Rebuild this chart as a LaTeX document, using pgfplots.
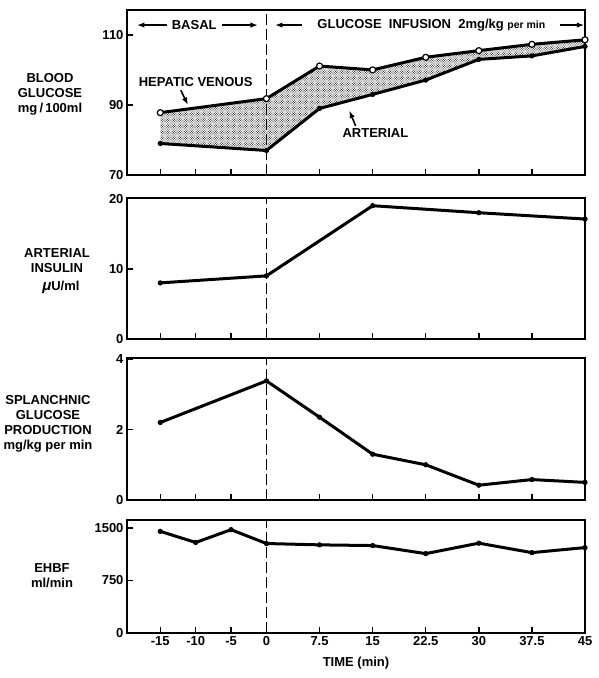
\documentclass[border=0pt]{standalone}
\usepackage{pgfplots}
\pgfplotsset{compat=1.18}
\usepackage{fontspec}
\setmainfont{Liberation Sans}
\usetikzlibrary{patterns,patterns.meta,arrows.meta}

\newcommand{\lab}{\bfseries\fontsize{13}{15}\selectfont}
\tikzset{
  arr/.style={line width=1.6pt, -{Latex[length=7.5pt,width=5.5pt]}},
  dash0/.style={line width=1.3pt, dash pattern=on 11pt off 4pt},
}
\tikzdeclarepattern{
  name=fdots, type=uncolored,
  bottom left={(-.1pt,-.1pt)}, top right={(2.4pt,2.4pt)},
  tile size={(2.4pt,2.4pt)},
  code={\fill (0.6pt,0.6pt) circle (0.55pt); \fill (1.8pt,1.8pt) circle (0.55pt);}
}
\pgfplotsset{
  panel/.style={
    scale only axis, width=458pt, xmin=-19.7, xmax=45,
    anchor=north west, clip=false,
    axis line style={line width=1.7pt},
    every tick/.style={line width=1.4pt, black},
    major tick length=6pt, tick align=inside,
    xtick={-15,-10,-5,7.5,15,22.5,30,37.5}, xticklabels={},
    xtick pos=bottom, ytick pos=left,
    ticklabel style={font=\lab},
    /pgf/number format/assume math mode=true,
  },
  dl/.style={line width=3pt, black, mark=*, mark size=2.2pt, mark options={fill=black, line width=0.8pt}},
}

\begin{document}
\begin{tikzpicture}
\useasboundingbox (0pt,0pt) rectangle (598pt,-678pt);

% ---------- Panel 1: blood glucose ----------
\begin{axis}[panel, at={(127pt,-10pt)}, height=165pt,
  ymin=70, ymax=117.1, ytick={70,90,110}, yticklabels={70,90,110}]
\draw[dash0] (axis cs:0,70) -- (axis cs:0,117.1);
\addplot[draw=none, pattern=fdots, pattern color=black!85] coordinates {
  (-15,87.8) (0,91.8) (7.5,101.1) (15,100) (22.5,103.6) (30,105.5) (37.5,107.3) (45,108.6)
  (45,106.7) (37.5,104) (30,103) (22.5,97.1) (15,93) (7.5,89) (0,77) (-15,79)} --cycle;
% arterial
\addplot[dl] coordinates {(-15,79) (0,77) (7.5,89) (15,93) (22.5,97.1) (30,103) (37.5,104) (45,106.7)};
% hepatic venous
\addplot[dl, mark options={fill=white, line width=1.2pt}, mark size=3pt] coordinates {(-15,87.8) (0,91.8) (7.5,101.1) (15,100) (22.5,103.6) (30,105.5) (37.5,107.3) (45,108.6)};
% annotations
\node[font=\lab] at (axis cs:-10.2,112.8) {BASAL};
\draw[arr] (axis cs:-14.0,112.8) -- (axis cs:-18.3,112.8);
\draw[arr] (axis cs:-6.3,112.8) -- (axis cs:-1.2,112.8);
\node[font=\lab] at (axis cs:23.3,112.8) {GLUCOSE\ \ INFUSION\ \ 2mg/kg {\fontsize{10.5}{12}\selectfont per min}};
\draw[arr] (axis cs:5.0,112.8) -- (axis cs:1.2,112.8);
\draw[arr] (axis cs:41.4,112.8) -- (axis cs:44.9,112.8);
\node[font=\lab] at (axis cs:-10.0,96.4) {HEPATIC VENOUS};
\draw[arr] (axis cs:-12.1,94.2) -- (axis cs:-11.1,90.0);
\node[font=\lab] at (axis cs:15.4,81.9) {ARTERIAL};
\draw[arr] (axis cs:12.6,84.0) -- (axis cs:11.7,88.4);
\end{axis}

% ---------- Panel 2: arterial insulin ----------
\begin{axis}[panel, at={(127pt,-198pt)}, height=141pt,
  ymin=0, ymax=20.1, ytick={0,10,20}, yticklabels={0,10,20}]
\draw[dash0] (axis cs:0,0) -- (axis cs:0,20.1);
\addplot[dl] coordinates {(-15,8.0) (0,9.0) (15,19.0) (30,18.0) (45,17.1)};
\end{axis}

% ---------- Panel 3: splanchnic glucose production ----------
\begin{axis}[panel, at={(127pt,-358pt)}, height=142pt,
  ymin=0, ymax=4.03, ytick={0,2,4}, yticklabels={0,2,4}]
\draw[dash0] (axis cs:0,0) -- (axis cs:0,4.03);
\addplot[dl] coordinates {(-15,2.2) (0,3.38) (7.5,2.35) (15,1.3) (22.5,1.0) (30,0.42) (37.5,0.58) (45,0.5)};
\end{axis}

% ---------- Panel 4: EHBF ----------
\begin{axis}[panel, at={(127pt,-520pt)}, height=113pt,
  ymin=0, ymax=1614, ytick={0,750,1500}, yticklabels={0,750,1500},
  xtick={-15,-10,-5,0,7.5,15,22.5,30,37.5,45},
  xticklabels={-15,-10,-5,0,7.5,15,22.5,30,37.5,45}]
\draw[dash0] (axis cs:0,0) -- (axis cs:0,1614);
\addplot[dl] coordinates {(-15,1452) (-10,1293) (-5,1476) (0,1278) (7.5,1259) (15,1249) (22.5,1134) (30,1283) (37.5,1148) (45,1220)};
\end{axis}

% ---------- y labels ----------
\node[font=\lab, align=center] at (50pt,-94pt) {BLOOD\\GLUCOSE\\mg\,/\,100ml};
\node[font=\lab, align=center] at (57pt,-261pt) {ARTERIAL\\INSULIN};
\node[font=\lab, anchor=east] at (83pt,-287pt) {{\fontsize{15}{15}\selectfont\itshape μ}U/ml};
\node[font=\lab, align=center] at (48pt,-424pt) {SPLANCHNIC\\GLUCOSE\\PRODUCTION\\mg/kg per min};
\node[font=\lab, align=center] at (52pt,-576pt) {EHBF\\ml/min};
\node[font=\lab] at (356pt,-663pt) {TIME (min)};
\end{tikzpicture}
\end{document}
